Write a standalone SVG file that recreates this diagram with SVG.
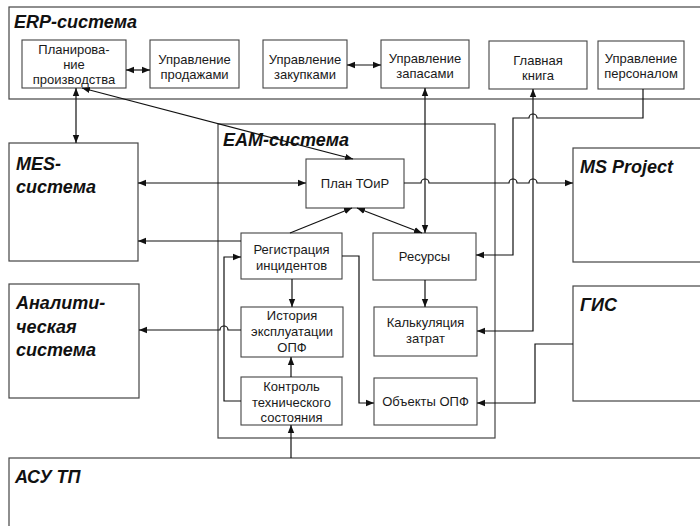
<svg xmlns="http://www.w3.org/2000/svg" width="700" height="526" viewBox="0 0 700 526">
<style>
.frame{fill:none;stroke:#444;stroke-width:1.2}
.box{fill:#fff;stroke:#444;stroke-width:1.1}
.t{font-family:"Liberation Sans",Arial,sans-serif;font-size:13px;fill:#1a1a1a;text-anchor:middle}
.big{font-family:"Liberation Sans",Arial,sans-serif;font-size:18px;font-weight:bold;font-style:italic;fill:#111}
.c{fill:none;stroke:#111;stroke-width:1.2}
</style>
<defs>
<marker id="ah" viewBox="0 0 10 10" refX="10" refY="5" markerWidth="8" markerHeight="8" markerUnits="userSpaceOnUse" orient="auto-start-reverse">
<path d="M0,1 L10,5 L0,9 z" fill="#111"/>
</marker>
</defs>
<rect width="700" height="526" fill="#fff"/>

<g id="erp">
<rect class="frame" x="9" y="7" width="700" height="92"/>
<text class="big" x="14" y="28">ERP-система</text>
</g>
<g id="planprod">
<rect class="box" x="22" y="40" width="104" height="48"/>
<text class="t" x="74" y="54">Планирова-</text>
<text class="t" x="74" y="69">ние</text>
<text class="t" x="74" y="84">производства</text>
</g>
<g id="sales">
<rect class="box" x="150" y="40" width="89" height="48"/>
<text class="t" x="194.5" y="64">Управление</text>
<text class="t" x="194.5" y="79">продажами</text>
</g>
<g id="purch">
<rect class="box" x="263" y="40" width="84" height="48"/>
<text class="t" x="305" y="64">Управление</text>
<text class="t" x="305" y="79">закупками</text>
</g>
<g id="stock">
<rect class="box" x="381" y="40" width="88" height="48"/>
<text class="t" x="425" y="63">Управление</text>
<text class="t" x="425" y="78">запасами</text>
</g>
<g id="ledger">
<rect class="box" x="489" y="41" width="98" height="48"/>
<text class="t" x="538" y="65">Главная</text>
<text class="t" x="538" y="80">книга</text>
</g>
<g id="hr">
<rect class="box" x="598" y="41" width="86" height="48"/>
<text class="t" x="641" y="63">Управление</text>
<text class="t" x="641" y="78">персоналом</text>
</g>

<g id="mes">
<rect class="frame" x="9" y="143" width="129" height="118"/>
<text class="big" x="16" y="170">MES-</text>
<text class="big" x="16" y="193">система</text>
</g>
<g id="analyt">
<rect class="frame" x="9" y="284" width="130" height="114"/>
<text class="big" x="16" y="309">Аналити-</text>
<text class="big" x="16" y="333">ческая</text>
<text class="big" x="16" y="356">система</text>
</g>
<g id="msproject">
<rect class="frame" x="573" y="148" width="140" height="114"/>
<text class="big" x="580" y="173">MS Project</text>
</g>
<g id="gis">
<rect class="frame" x="573" y="286" width="140" height="115"/>
<text class="big" x="580" y="311">ГИС</text>
</g>
<g id="asutp">
<rect class="frame" x="9" y="458" width="700" height="80"/>
<text class="big" x="15" y="483">АСУ ТП</text>
</g>

<g id="eam">
<rect class="frame" x="218" y="124" width="277" height="314"/>
<text class="big" x="223" y="146">EAM-система</text>
</g>
<g id="plantoir">
<rect class="box" x="306" y="159" width="98" height="49"/>
<text class="t" x="355" y="188">План ТОиР</text>
</g>
<g id="incid">
<rect class="box" x="241" y="233" width="101" height="46"/>
<text class="t" x="291.5" y="254">Регистрация</text>
<text class="t" x="291.5" y="270">инцидентов</text>
</g>
<g id="res">
<rect class="box" x="373" y="233" width="103" height="47"/>
<text class="t" x="424.5" y="261">Ресурсы</text>
</g>
<g id="hist">
<rect class="box" x="241" y="307" width="102" height="50"/>
<text class="t" x="292" y="320">История</text>
<text class="t" x="292" y="336">эксплуатации</text>
<text class="t" x="292" y="352">ОПФ</text>
</g>
<g id="calc">
<rect class="box" x="374" y="307" width="103" height="49"/>
<text class="t" x="425.5" y="327">Калькуляция</text>
<text class="t" x="425.5" y="343">затрат</text>
</g>
<g id="ctrl">
<rect class="box" x="241" y="377" width="101" height="48"/>
<text class="t" x="291.5" y="391">Контроль</text>
<text class="t" x="291.5" y="407">технического</text>
<text class="t" x="291.5" y="422">состояния</text>
</g>
<g id="opf">
<rect class="box" x="374" y="378" width="103" height="47"/>
<text class="t" x="425.5" y="406">Объекты ОПФ</text>
</g>

<g id="connectors">
<path class="c" d="M126 70 L150 70" marker-start="url(#ah)" marker-end="url(#ah)"/>
<path class="c" d="M347 65 L381 65" marker-start="url(#ah)" marker-end="url(#ah)"/>
<path class="c" d="M76 88 L76 143" marker-start="url(#ah)" marker-end="url(#ah)"/>
<path class="c" d="M82 88 L353 159" marker-start="url(#ah)" marker-end="url(#ah)"/>
<path class="c" d="M138 183 L306 183" marker-start="url(#ah)" marker-end="url(#ah)"/>
<path class="c" d="M404 183 L421 183 A4 4 0 0 1 429 183 L509 183 A4 4 0 0 1 517 183 L529 183 A4 4 0 0 1 537 183 L573 183" marker-end="url(#ah)"/>
<path class="c" d="M425 88 L425 233" marker-start="url(#ah)" marker-end="url(#ah)"/>
<path class="c" d="M357 208 L422 233" marker-start="url(#ah)" marker-end="url(#ah)"/>
<path class="c" d="M533 89 L533 331 L477 331" marker-start="url(#ah)" marker-end="url(#ah)"/>
<path class="c" d="M643 89 L643 118 L537 118 A4 4 0 0 0 529 118 L513 118 L513 255 L476 255" marker-end="url(#ah)"/>
<path class="c" d="M573 344 L535 344 L535 403 L477 403" marker-end="url(#ah)"/>
<path class="c" d="M290 233 L352 208" marker-end="url(#ah)"/>
<path class="c" d="M241 241 L138 241" marker-end="url(#ah)"/>
<path class="c" d="M292 279 L292 307" marker-end="url(#ah)"/>
<path class="c" d="M342 256 L359 256 L359 403 L374 403" marker-end="url(#ah)"/>
<path class="c" d="M425 280 L425 307" marker-end="url(#ah)"/>
<path class="c" d="M241 330 L228 330 A4 4 0 0 0 220 330 L139 330" marker-end="url(#ah)"/>
<path class="c" d="M291 377 L291 357" marker-end="url(#ah)"/>
<path class="c" d="M241 401 L224 401 L224 257 L241 257" marker-end="url(#ah)"/>
<path class="c" d="M291 458 L291 425" marker-end="url(#ah)"/>
</g>
</svg>
